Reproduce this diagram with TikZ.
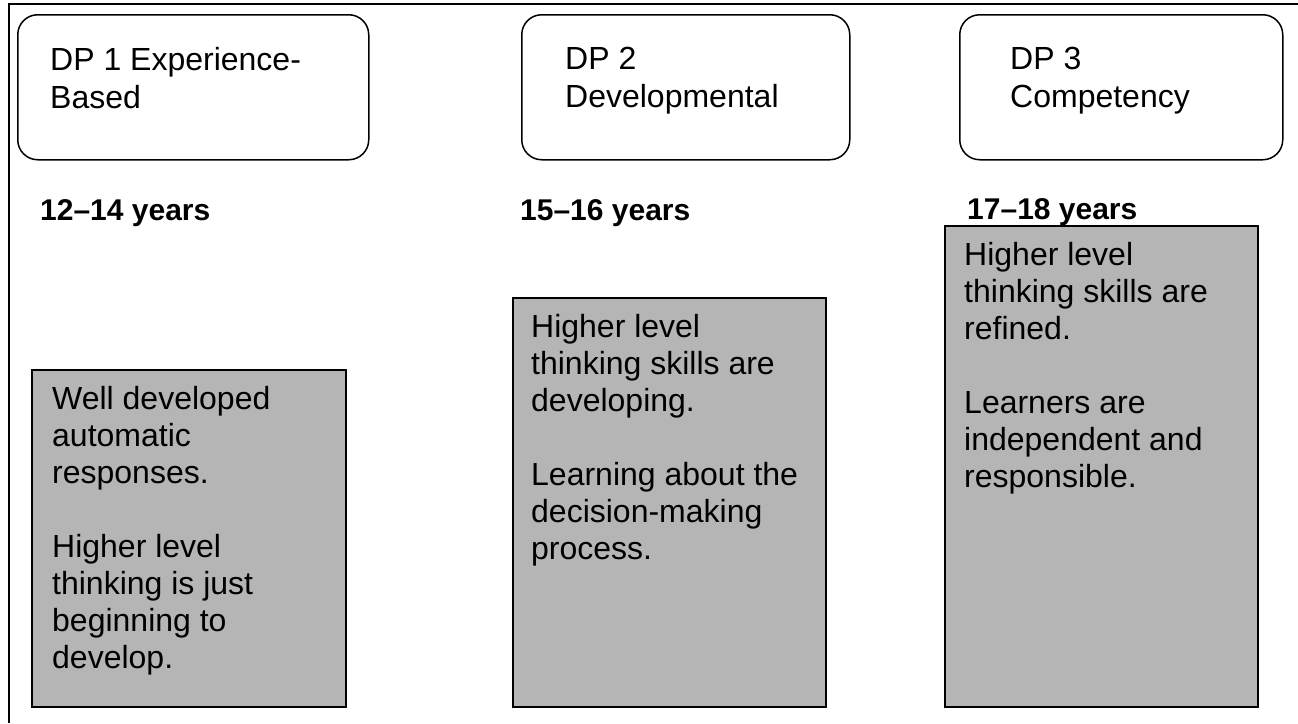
\documentclass[tikz,border=0pt]{standalone}
\usepackage{fontspec}
\setmainfont{Liberation Sans}
\usetikzlibrary{positioning}
\definecolor{panelgrey}{HTML}{B5B5B5}

\begin{document}
\begin{tikzpicture}[
  x=1pt, y=-1pt,
  dpbox/.style={draw=black, line width=1.5pt, rounded corners=20pt,
                anchor=north west, inner sep=0pt, minimum height=145pt},
  dptext/.style={anchor=north west, inner sep=0pt, align=left,
                 font=\fontsize{32}{38}\selectfont},
  agelabel/.style={anchor=base west, inner sep=0pt,
                   font=\fontsize{30}{36}\selectfont\bfseries},
  panel/.style={draw=black, fill=panelgrey, line width=2pt,
                anchor=north west, inner sep=0pt},
  paneltext/.style={anchor=north west, inner sep=0pt, align=left,
                    font=\fontsize{32}{37}\selectfont}
]
  \useasboundingbox (0,0) rectangle (1298,723);

  % --- outer frame (left and top only) ---
  \draw[line width=2pt] (9,723) -- (9,4) -- (1298,4);

  % --- top row: the three DP boxes ---
  \node[dpbox, minimum width=351pt] (dp1) at (17,14) {};
  \node[dpbox, minimum width=328pt] (dp2) at (521,14) {};
  \node[dpbox, minimum width=323pt] (dp3) at (959,14) {};

  \node[dptext] (dp1txt) at ([xshift=33pt, yshift=-33pt]dp1.north west)
       {DP 1 Experience-\\Based};
  \node[dptext] (dp2txt) at ([xshift=44pt, yshift=-33pt]dp2.north west)
       {DP 2\\Developmental};
  \node[dptext] (dp3txt) at ([xshift=51pt, yshift=-33pt]dp3.north west)
       {DP 3\\Competency};

  % --- age ranges ---
  \node[agelabel] (age1) at (40,220)  {12--14 years};
  \node[agelabel] (age2) at (520,220) {15--16 years};
  \node[agelabel] (age3) at (967,219) {17--18 years};

  % --- grey panels, stepped upwards ---
  \node[panel, minimum width=314pt, minimum height=337pt] (pA) at (31,369)  {};
  \node[panel, minimum width=313pt, minimum height=409pt] (pB) at (512,297) {};
  \node[panel, minimum width=313pt, minimum height=481pt] (pC) at (944,225) {};

  \node[paneltext] (pAtxt) at ([xshift=21pt, yshift=-17pt]pA.north west)
       {Well developed\\automatic\\responses.\\[37pt]Higher level\\thinking is just\\beginning to\\develop.};
  \node[paneltext] (pBtxt) at ([xshift=19pt, yshift=-17pt]pB.north west)
       {Higher level\\thinking skills are\\developing.\\[37pt]Learning about the\\decision-making\\process.};
  \node[paneltext] (pCtxt) at ([xshift=20pt, yshift=-17pt]pC.north west)
       {Higher level\\thinking skills are\\refined.\\[37pt]Learners are\\independent and\\responsible.};
\end{tikzpicture}
\end{document}
